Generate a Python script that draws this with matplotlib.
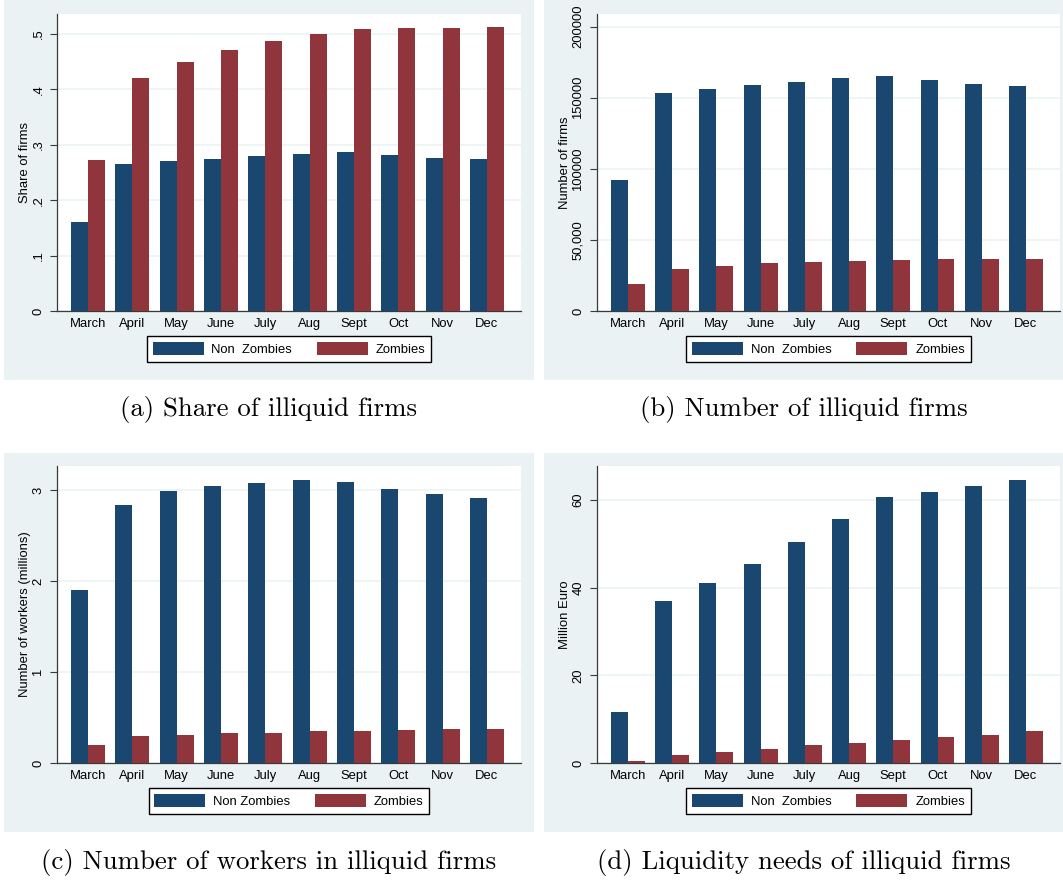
import numpy as np
import matplotlib
matplotlib.use("Agg")
import matplotlib.pyplot as plt
from matplotlib.patches import Rectangle

# Monthly illiquidity figures, zombie vs non-zombie firms
months = ["March", "April", "May", "June", "July", "Aug", "Sept", "Oct", "Nov", "Dec"]

share_nonzombie = [0.161, 0.265, 0.271, 0.275, 0.280, 0.283, 0.287, 0.282, 0.277, 0.274]
share_zombie = [0.272, 0.421, 0.450, 0.471, 0.487, 0.500, 0.509, 0.511, 0.511, 0.513]

firms_nonzombie = [92400, 153300, 156200, 159000, 161300, 163900, 165300, 162500, 159900, 158000]
firms_zombie = [19200, 29800, 31700, 33500, 34500, 35400, 36100, 36300, 36300, 36300]

workers_nonzombie = [1.905, 2.839, 2.996, 3.051, 3.081, 3.117, 3.092, 3.015, 2.956, 2.916]
workers_zombie = [0.194, 0.293, 0.311, 0.333, 0.333, 0.348, 0.355, 0.366, 0.377, 0.377]

needs_nonzombie = [11.6, 37.0, 41.0, 45.5, 50.5, 55.7, 60.8, 61.9, 63.3, 64.7]
needs_zombie = [0.5, 1.9, 2.6, 3.3, 4.0, 4.6, 5.3, 6.0, 6.5, 7.2]

NAVY = "#1A476F"
MAROON = "#90353B"
PANEL_BG = "#EAF2F3"
AXIS_COL = "#3a3a3a"

W, H = 1063, 880
plt.rcParams["font.family"] = ["Liberation Sans", "DejaVu Sans"]
plt.rcParams["font.size"] = 9.4

fig = plt.figure(figsize=(W / 100, H / 100), dpi=100)


def fig_rect(x0, y0, x1, y1):
    """Pixel box (top-left origin) -> figure fraction [l, b, w, h]."""
    return [x0 / W, 1 - y1 / H, (x1 - x0) / W, (y1 - y0) / H]


def draw_panel(panel, plot, nz, z, ymax, yticks, yticklabels, ylabel,
               nz_label, caption, caption_y):
    # light bluish-gray graph region behind each chart
    l, b, w, h = fig_rect(*panel)
    fig.patches.append(Rectangle((l, b), w, h, transform=fig.transFigure,
                                 facecolor=PANEL_BG, edgecolor="none", zorder=-5))

    ax = fig.add_axes(fig_rect(*plot))
    ax.set_zorder(2)
    ax.set_facecolor("white")
    x = np.arange(len(months))
    bw = 0.384
    ax.bar(x - bw / 2, nz, width=bw, color=NAVY, label=nz_label, zorder=3)
    ax.bar(x + bw / 2, z, width=bw, color=MAROON, label="Zombies", zorder=3)

    ax.set_xlim(-0.70, len(months) - 1 + 0.77)
    ax.set_ylim(0, ymax)
    ax.set_xticks(x)
    ax.set_xticklabels(months)
    ax.set_yticks(yticks)
    ax.set_yticklabels(yticklabels, rotation=90, va="center")
    ax.tick_params(axis="x", length=0, pad=5)
    ax.tick_params(axis="y", length=5, width=0.8, color=AXIS_COL, pad=4)
    ax.grid(axis="y", color=PANEL_BG, linewidth=1.1, zorder=1)

    for side in ("top", "right"):
        ax.spines[side].set_visible(False)
    for side in ("left", "bottom"):
        ax.spines[side].set_color(AXIS_COL)
        ax.spines[side].set_linewidth(0.9)

    ax.set_ylabel(ylabel, labelpad=1)

    cx = (plot[0] + plot[2]) / 2
    ax.legend(loc="center", bbox_to_anchor=(cx / W, 1 - (plot[3] + 38) / H),
              bbox_transform=fig.transFigure, ncol=2, frameon=True,
              fancybox=False, framealpha=1, edgecolor="black",
              handlelength=3.9, handleheight=1.15, handletextpad=0.6,
              columnspacing=1.9, borderpad=0.45)
    ax.get_legend().get_frame().set_linewidth(1.0)

    fig.text((panel[0] + panel[2]) / 2 / W, 1 - caption_y / H, caption,
             family="cmr10", fontsize=19.3, ha="center", va="center")
    return ax


draw_panel((4, 0, 534, 380), (57, 14, 521, 311),
           share_nonzombie, share_zombie, 0.536,
           [0, 0.1, 0.2, 0.3, 0.4, 0.5], ["0", ".1", ".2", ".3", ".4", ".5"],
           "Share of firms", "Non  Zombies", "(a) Share of illiquid firms", 409)

draw_panel((544, 0, 1063, 380), (597, 14, 1060, 311),
           firms_nonzombie, firms_zombie, 208900,
           [0, 50000, 100000, 150000, 200000],
           ["0", "50,000", "100000", "150000", "200000"],
           "Number of firms", "Non  Zombies", "(b) Number of illiquid firms", 409)

draw_panel((4, 453, 534, 832), (57, 466, 521, 763),
           workers_nonzombie, workers_zombie, 3.267,
           [0, 1, 2, 3], ["0", "1", "2", "3"],
           "Number of workers (millions)", "Non Zombies",
           "(c) Number of workers in illiquid firms", 862)

draw_panel((544, 453, 1063, 832), (597, 466, 1060, 763),
           needs_nonzombie, needs_zombie, 67.8,
           [0, 20, 40, 60], ["0", "20", "40", "60"],
           "Million Euro", "Non  Zombies",
           "(d) Liquidity needs of illiquid firms", 862)

fig.savefig("out.png", dpi=100, facecolor="white")
